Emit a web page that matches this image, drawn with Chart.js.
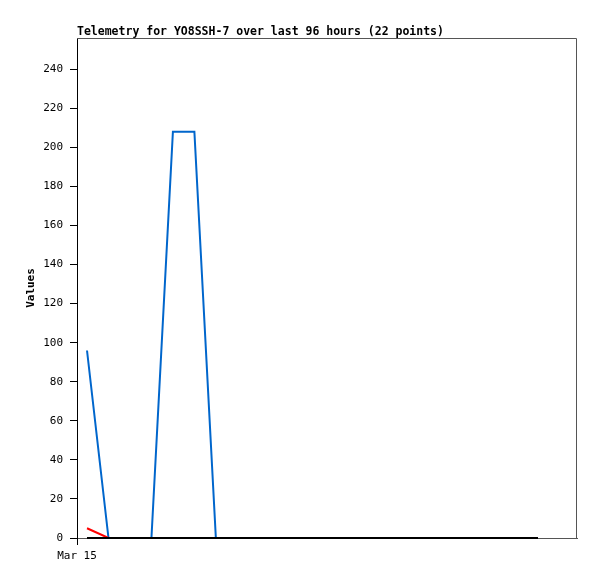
<!DOCTYPE html>
<html>
<head>
<meta charset="utf-8">
<script src="https://cdn.jsdelivr.net/npm/chart.js@4/dist/chart.umd.min.js"></script>
<style>
  html, body { margin: 0; padding: 0; background: #fff; }
  #wrap { width: 597px; height: 579px; }
</style>
</head>
<body>
<div id="wrap"><canvas id="telemetry" width="597" height="579"></canvas></div>
<script>
// 22 samples over the last 96 hours
const points = [0,1,2,3,4,5,6,7,8,9,10,11,12,13,14,15,16,17,18,19,20,21];
const blueValues = [96,0,0,0,208,208,0,0,0,0,0,0,0,0,0,0,0,0,0,0,0,0];
const redValues = [5,0,0,0,0,0,0,0,0,0,0,0,0,0,0,0,0,0,0,0,0,0];
const blackValues = [0,0,0,0,0,0,0,0,0,0,0,0,0,0,0,0,0,0,0,0,0,0];
const yTicks = [0,20,40,60,80,100,120,140,160,180,200,220,240];
const xTickLabel = 'Mar 15';
const xMin = -0.466;
const xMax = 22.816;

const mono = '"DejaVu Sans Mono", "Liberation Mono", monospace';

function toXY(vals) {
    return points.map((p, i) => ({ x: p, y: vals[i] }));
}

// gray frame on top/right + left-aligned title
const framePlugin = {
    id: 'frame',
    beforeDatasetsDraw(chart) {
        const a = chart.chartArea;
        const c = chart.ctx;
        c.save();
        c.strokeStyle = '#555';
        c.lineWidth = 1;
        c.beginPath();
        c.moveTo(a.left, a.top + 0.5);
        c.lineTo(a.right - 0.5, a.top + 0.5);
        c.lineTo(a.right - 0.5, a.bottom);
        c.stroke();
        c.restore();
    },
    afterDraw(chart) {
        const a = chart.chartArea;
        const c = chart.ctx;
        c.save();
        c.fillStyle = '#000';
        c.font = 'bold 11.5px ' + mono;
        c.textBaseline = 'alphabetic';
        c.fillText('Telemetry for YO8SSH-7 over last 96 hours (22 points)', a.left, 35);
        c.restore();
    }
};

const ctx = document.getElementById('telemetry').getContext('2d');
const myChart = new Chart(ctx, {
    type: 'line',
    data: {
        datasets: [{
            label: 'black',
            data: toXY(blackValues),
            borderColor: '#000000',
            borderWidth: 2,
            order: 0
        }, {
            label: 'red',
            data: toXY(redValues),
            borderColor: '#ff0000',
            borderWidth: 2,
            order: 1
        }, {
            label: 'blue',
            data: toXY(blueValues),
            borderColor: '#0066cc',
            borderWidth: 2,
            order: 2
        }]
    },
    options: {
        responsive: false,
        animation: false,
        layout: { padding: { top: 38, right: 20, left: 0, bottom: 0 } },
        elements: {
            point: { radius: 0 },
            line: { tension: 0, fill: false }
        },
        datasets: { line: { clip: false } },
        plugins: {
            legend: { display: false },
            tooltip: { enabled: false }
        },
        scales: {
            x: {
                type: 'linear',
                min: xMin,
                max: xMax,
                afterFit(scale) { scale.height = 41; },
                afterBuildTicks(scale) { scale.ticks = [{ value: xMin }]; },
                grid: { drawOnChartArea: false, tickLength: 7, color: '#000', lineWidth: 1 },
                border: { color: '#555', width: 1 },
                ticks: {
                    color: '#000',
                    font: { family: mono, size: 11 },
                    padding: 5,
                    maxRotation: 0,
                    callback: () => xTickLabel
                }
            },
            y: {
                type: 'linear',
                min: 0,
                max: 256,
                afterFit(scale) { scale.width = 77; },
                afterBuildTicks(scale) { scale.ticks = yTicks.map(v => ({ value: v })); },
                grid: { drawOnChartArea: false, tickLength: 7, color: '#000', lineWidth: 1 },
                border: { color: '#000', width: 1 },
                ticks: {
                    color: '#000',
                    font: { family: mono, size: 11 },
                    padding: 7
                },
                title: {
                    display: true,
                    text: 'Values',
                    color: '#000',
                    font: { family: mono, size: 11, weight: 'bold' },
                    padding: { top: 25, bottom: 0 }
                }
            }
        }
    },
    plugins: [framePlugin]
});
</script>
</body>
</html>
